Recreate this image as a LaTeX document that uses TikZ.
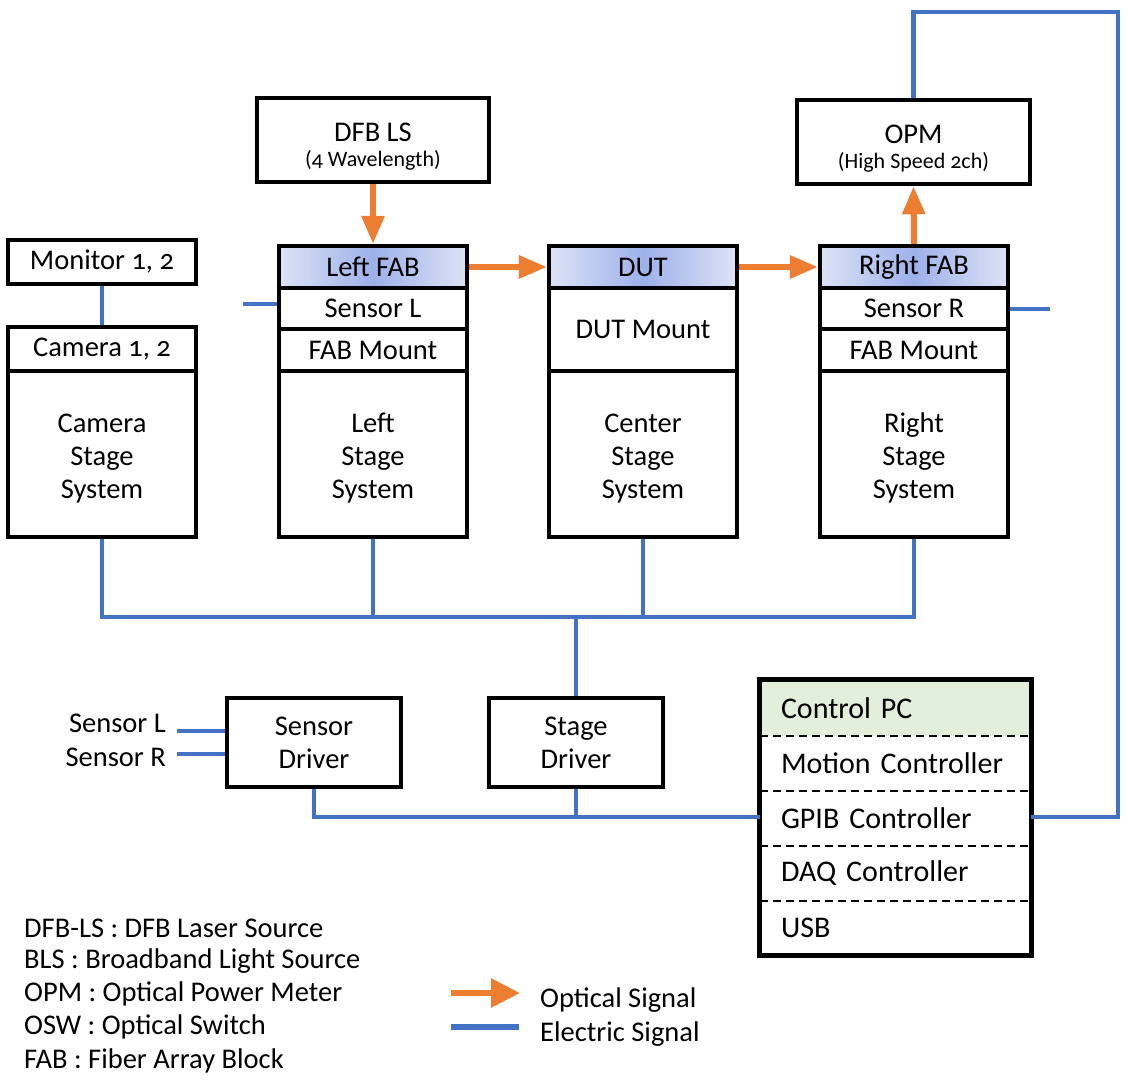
\documentclass[tikz,border=0pt]{standalone}
\usepackage{fontspec}
\setmainfont{Carlito}[Numbers=OldStyle]
\usetikzlibrary{arrows.meta}
\definecolor{eblue}{HTML}{4472C4}
\definecolor{oorange}{HTML}{ED7D31}
\definecolor{pcgreen}{HTML}{E2EFDA}
\definecolor{hdark}{HTML}{9DB1EA}
\definecolor{hlight}{HTML}{DDE3F6}
\begin{document}
\begin{tikzpicture}[x=1pt,y=-1pt,
  mainfont/.style={font=\fontsize{28.5}{33}\selectfont},
  cell/.style={draw, line width=4.2pt, minimum width=188pt, inner sep=0pt, align=center, mainfont},
  hdr/.style={cell, left color=hlight, right color=hlight, middle color=hdark},
  bigbox/.style={draw, line width=4.6pt, inner sep=0pt, align=center, mainfont},
  ebus/.style={draw=eblue, line width=4.6pt},
  opt/.style={draw=oorange, line width=6pt, -{Triangle[length=28pt,width=22pt]}},
  pcrow/.style={minimum width=271pt, text width=229pt, inner xsep=21pt, inner ysep=0pt, align=left, font=\fontsize{30}{33}\selectfont},
  divider/.style={line width=2.5pt, dash pattern=on 8pt off 5pt},
  legtxt/.style={anchor=west, inner sep=0pt, mainfont}
]
\useasboundingbox (0,0) rectangle (1128,1084);

% top boxes
\node[bigbox, minimum width=232pt, minimum height=84pt] (dfb) at (373,140)
  {\rule{0pt}{32pt}DFB LS\\[-8pt]{\fontsize{22}{24}\selectfont (4 Wavelength)}};
\node[bigbox, minimum width=233pt, minimum height=84pt] (opm) at (913.5,142)
  {\rule{0pt}{32pt}OPM\\[-8pt]{\fontsize{22}{24}\selectfont (High Speed 2ch)}};

% camera column
\node[cell, minimum height=44pt] (mon) at (102,262) {Monitor 1, 2};
\node[cell, minimum height=44pt] (cam) at (102,349) {Camera 1, 2};
\node[cell, minimum height=166pt] (camst) at (102,454) {\rule{0pt}{27pt}Camera\\Stage\\System};

% left column
\node[hdr, minimum height=42pt] (lfab) at (373,267) {Left FAB};
\node[cell, minimum height=41pt] (sensl) at (373,308.5) {Sensor L};
\node[cell, minimum height=42pt] (lmount) at (373,350) {FAB Mount};
\node[cell, minimum height=166pt] (lst) at (373,454) {\rule{0pt}{27pt}Left\\Stage\\System};

% center column
\node[hdr, minimum height=42pt] (dut) at (643,267) {DUT};
\node[cell, minimum height=83pt] (dutm) at (643,329.5) {DUT Mount};
\node[cell, minimum height=166pt] (cst) at (643,454) {\rule{0pt}{27pt}Center\\Stage\\System};

% right column
\node[hdr, minimum height=42pt] (rfab) at (914,267) {Right FAB};
\node[cell, minimum height=41pt] (sensr) at (914,308.5) {Sensor R};
\node[cell, minimum height=42pt] (rmount) at (914,350) {FAB Mount};
\node[cell, minimum height=166pt] (rst) at (914,454) {\rule{0pt}{27pt}Right\\Stage\\System};

% drivers
\node[bigbox, minimum width=174pt, minimum height=89pt] (sdrv) at (314,742.5) {Sensor\\Driver};
\node[bigbox, minimum width=174pt, minimum height=89pt] (tdrv) at (576,742.5) {Stage\\Driver};

% control PC
\node[pcrow, minimum height=56pt, fill=pcgreen] (pc1) at (895.5,708) {Control PC};
\node[pcrow, minimum height=55pt] (pc2) at (895.5,763.5) {Motion Controller};
\node[pcrow, minimum height=55pt] (pc3) at (895.5,818.5) {GPIB Controller};
\node[pcrow, minimum height=55pt] (pc4) at (895.5,873.5) {DAQ Controller};
\node[pcrow, minimum height=54pt] (pc5) at (895.5,928) {USB};
\draw[divider] (pc1.south west) -- (pc1.south east);
\draw[divider] (pc2.south west) -- (pc2.south east);
\draw[divider] (pc3.south west) -- (pc3.south east);
\draw[divider] (pc4.south west) -- (pc4.south east);
\draw[line width=5pt] (pc1.north west) rectangle (pc5.south east);

% optical signals
\draw[opt] (dfb.south) -- (lfab.north);
\draw[opt] (lfab.east) -- (dut.west);
\draw[opt] (dut.east) -- (rfab.west);
\draw[opt] (rfab.north) -- (opm.south);

% electric signals
\draw[ebus] (mon.south) -- (cam.north);
\coordinate (stubL) at (243,304);
\coordinate (stubR) at (1050,309);
\draw[ebus] (stubL) -- (sensl.west |- stubL);
\draw[ebus] (sensr.east |- stubR) -- (stubR);
\coordinate (busy) at (0,617);
\draw[ebus] (camst.south) -- (camst.south |- busy) -- (rst.south |- busy) -- (rst.south);
\draw[ebus] (lst.south) -- (lst.south |- busy);
\draw[ebus] (cst.south) -- (cst.south |- busy);
\draw[ebus] (tdrv.north |- busy) -- (tdrv.north);
\coordinate (bus2) at (0,817);
\draw[ebus] (sdrv.south) -- (sdrv.south |- bus2) -- (pc3.west |- bus2);
\draw[ebus] (tdrv.south) -- (tdrv.south |- bus2);
\coordinate (cTR) at (1118,12);
\draw[ebus] (pc3.east |- bus2) -| (cTR) -| (opm.north);

% sensor inputs
\node[anchor=east, inner sep=0pt, mainfont] (slabL) at (166,723) {Sensor L};
\node[anchor=east, inner sep=0pt, mainfont] (slabR) at (166,757) {Sensor R};
\coordinate (sinL) at (177,731);
\coordinate (sinR) at (177,754);
\draw[ebus] (sinL) -- (sdrv.west |- sinL);
\draw[ebus] (sinR) -- (sdrv.west |- sinR);

% legend
\node[legtxt] (l1) at (24,928) {DFB-LS : DFB Laser Source};
\node[legtxt] (l2) at (24,961) {BLS : Broadband Light Source};
\node[legtxt] (l3) at (24,994) {OPM : Optical Power Meter};
\node[legtxt] (l4) at (24,1027) {OSW : Optical Switch};
\node[legtxt] (l5) at (24,1061) {FAB : Fiber Array Block};
\coordinate (la1) at (451,993);
\coordinate (la2) at (520,993);
\draw[draw=oorange, line width=6pt, -{Triangle[length=29pt,width=28pt]}] (la1) -- (la2);
\coordinate (lb1) at (451,1027);
\coordinate (lb2) at (519,1027);
\draw[draw=eblue, line width=6pt] (lb1) -- (lb2);
\node[legtxt] (lo) at (540,1000) {Optical Signal};
\node[legtxt] (le) at (540,1034) {Electric Signal};
\end{tikzpicture}
\end{document}
